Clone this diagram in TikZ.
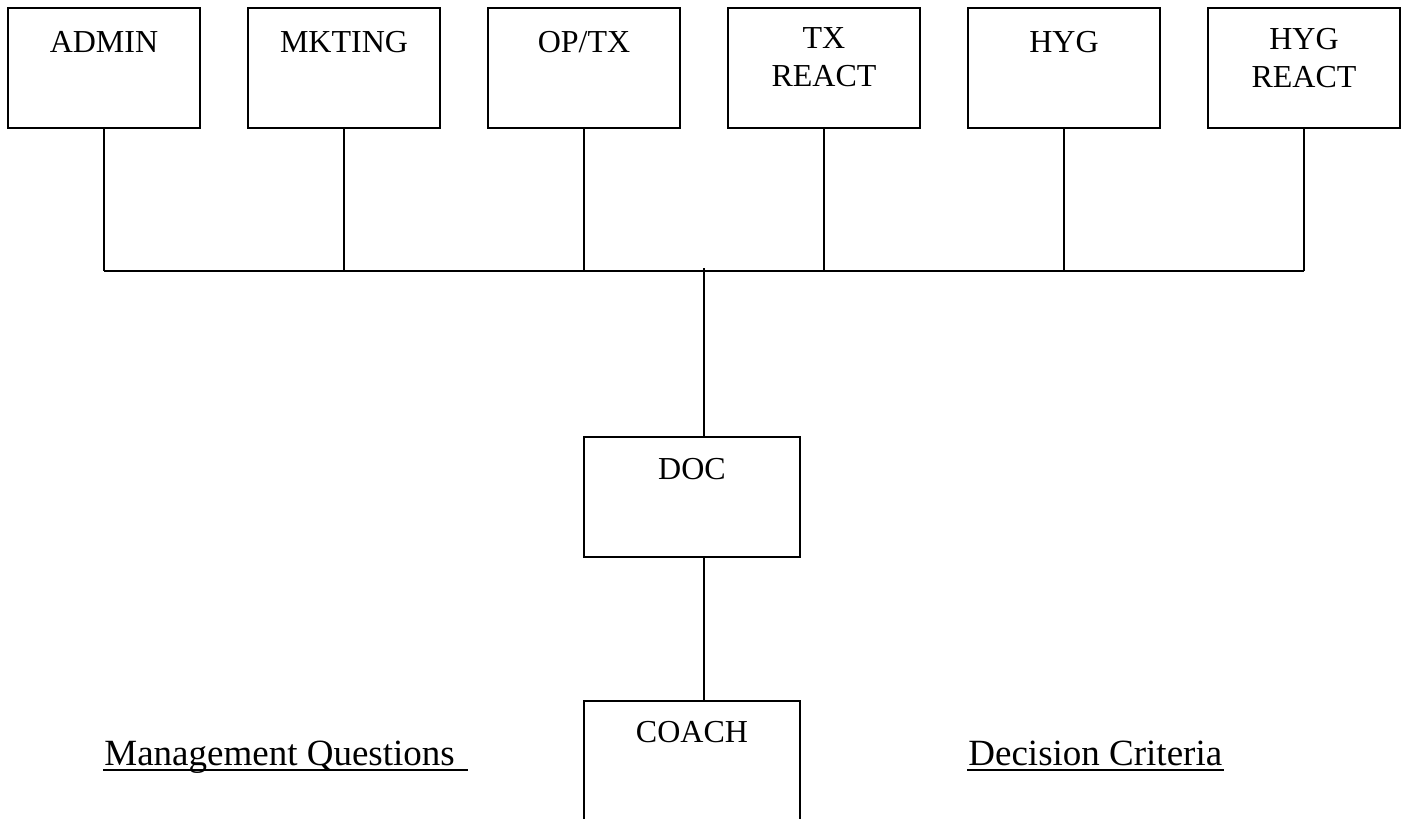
\documentclass[tikz,border=0pt]{standalone}
\usepackage{fontspec}
\setmainfont{Liberation Serif}
\tikzset{
  unit/.style={box/.style={draw, line width=2.8pt, minimum width=192pt, minimum height=120pt, inner sep=0pt}},
  boxtext/.style={anchor=north, inner sep=0pt, align=center, font=\fontsize{32}{38}\selectfont},
  heading/.style={anchor=base west, inner sep=0pt, font=\fontsize{37}{44}\selectfont}
}
\begin{document}
\begin{tikzpicture}[x=1pt, y=-1pt, line width=2.8pt, unit]
      \useasboundingbox (0,0) rectangle (1406,819);
      \clip (0,0) rectangle (1406,819);
      \draw
        (104,68) node[box] (admin){}
        (344,68) node[box] (mkting){}
        (584,68) node[box] (optx){}
        (824,68) node[box] (txreact){}
        (1064,68) node[box] (hyg){}
        (1304,68) node[box] (hygreact){}
        (692,497) node[box, minimum width=216pt, minimum height=120pt] (doc){}
        (692,761) node[box, minimum width=216pt, minimum height=120pt] (coach){};
      \node[boxtext] (admin-t) at ([yshift=-23]admin.north) {ADMIN};
      \node[boxtext] (mkting-t) at ([yshift=-23]mkting.north) {MKTING};
      \node[boxtext] (optx-t) at ([yshift=-23]optx.north) {OP/TX};
      \node[boxtext] (txreact-t) at ([yshift=-20]txreact.north) {TX\\REACT};
      \node[boxtext] (hyg-t) at ([yshift=-23]hyg.north) {HYG};
      \node[boxtext] (hygreact-t) at ([yshift=-20]hygreact.north) {HYG\\REACT};
      \node[boxtext] (doc-t) at ([yshift=-21]doc.north) {DOC};
      \node[boxtext] (coach-t) at ([yshift=-20]coach.north) {COACH};
      \coordinate (busL) at (104,271);
      \coordinate (busR) at (1304,271);
      \coordinate (docin) at ([xshift=12pt]doc.north);
      \coordinate (docout) at ([xshift=12pt]doc.south);
      \coordinate (coachin) at ([xshift=12pt]coach.north);
      \begin{scope}[-]
        \draw (busL) to (busR);
        \foreach \n in {admin,mkting,optx,txreact,hyg,hygreact}
          \draw (\n.south) to (\n.south |- busL);
        \draw ([yshift=3pt]busL -| docin) to (docin);
        \draw (docout) to (coachin);
      \end{scope}
      \node[heading] (mq) at (103,765) {Management Questions};
      \node[heading] (dc) at (967,765) {Decision Criteria};
      % underline runs on over the trailing space
      \draw[line width=2pt] ([yshift=-5pt]mq.base west) to ([shift={(12pt,-5pt)}]mq.base east);
      \draw[line width=2pt] ([yshift=-5pt]dc.base west) to ([yshift=-5pt]dc.base east);
    \end{tikzpicture}
\end{document}
